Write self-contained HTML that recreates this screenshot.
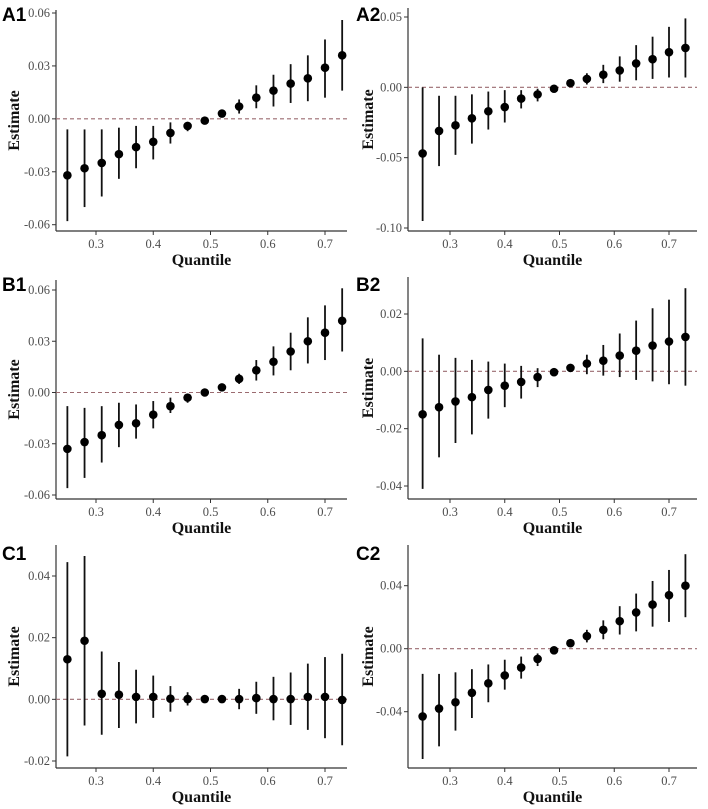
<!DOCTYPE html>
<html><head><meta charset="utf-8">
<style>
html,body{margin:0;padding:0;background:#fff;}
svg{display:block;}
.tick{font-family:"Liberation Serif",serif;font-size:12.5px;fill:#4d4d4d;}
.ttl{font-family:"Liberation Serif",serif;font-size:16px;font-weight:bold;fill:#111;}
.plab{font-family:"Liberation Sans",sans-serif;font-size:19px;font-weight:bold;fill:#000;}
</style></head>
<body>
<svg id="fig" width="708" height="809" viewBox="0 0 708 809"></svg>
<script>
const quantiles=[0.25,0.28,0.31,0.34,0.37,0.40,0.43,0.46,0.49,0.52,0.55,0.58,0.61,0.64,0.67,0.70,0.73];
const xTicks=[0.3,0.4,0.5,0.6,0.7];

const a1Est=[-0.032,-0.028,-0.025,-0.020,-0.016,-0.013,-0.008,-0.004,-0.001,0.003,0.007,0.012,0.016,0.020,0.023,0.029,0.036];
const a1Lo=[-0.058,-0.050,-0.044,-0.034,-0.028,-0.023,-0.014,-0.007,-0.003,0.001,0.003,0.006,0.007,0.009,0.010,0.012,0.016];
const a1Hi=[-0.006,-0.006,-0.006,-0.005,-0.004,-0.004,-0.002,-0.002,0,0.005,0.011,0.019,0.025,0.031,0.036,0.045,0.056];
const a1Ticks=[0.06,0.03,0,-0.03,-0.06];

const a2Est=[-0.047,-0.031,-0.027,-0.022,-0.017,-0.014,-0.008,-0.005,-0.001,0.003,0.006,0.009,0.012,0.017,0.020,0.025,0.028];
const a2Lo=[-0.095,-0.056,-0.048,-0.040,-0.030,-0.025,-0.015,-0.010,-0.003,0.001,0.002,0.003,0.004,0.005,0.006,0.007,0.007];
const a2Hi=[0.000,-0.006,-0.006,-0.005,-0.003,-0.002,-0.002,-0.001,0,0.004,0.010,0.016,0.022,0.030,0.036,0.043,0.049];
const a2Ticks=[0.05,0,-0.05,-0.10];

const b1Est=[-0.033,-0.029,-0.025,-0.019,-0.018,-0.013,-0.008,-0.003,0,0.003,0.008,0.013,0.018,0.024,0.030,0.035,0.042];
const b1Lo=[-0.056,-0.050,-0.041,-0.032,-0.027,-0.021,-0.012,-0.006,-0.002,0.001,0.005,0.007,0.010,0.013,0.017,0.019,0.024];
const b1Hi=[-0.008,-0.009,-0.008,-0.006,-0.007,-0.005,-0.003,-0.001,0.001,0.005,0.011,0.019,0.027,0.035,0.044,0.051,0.061];
const b1Ticks=[0.06,0.03,0,-0.03,-0.06];

const b2Est=[-0.015,-0.0125,-0.0105,-0.009,-0.0065,-0.005,-0.0037,-0.002,-0.0003,0.0012,0.0027,0.0037,0.0055,0.0072,0.009,0.0104,0.012];
const b2Lo=[-0.041,-0.030,-0.025,-0.022,-0.0165,-0.0125,-0.0095,-0.0055,-0.0013,0,-0.001,-0.0015,-0.002,-0.003,-0.0035,-0.0045,-0.005];
const b2Hi=[0.0115,0.0058,0.0047,0.004,0.0034,0.0027,0.0019,0.0011,0.0006,0.0025,0.0058,0.0092,0.0132,0.0177,0.022,0.025,0.029];
const b2Ticks=[0.02,0,-0.02,-0.04];

const c1Est=[0.013,0.019,0.0018,0.0015,0.0008,0.0008,0.0002,0.0001,0.0001,0.0001,0.0001,0.0004,0.0001,0.0001,0.0008,0.0008,-0.0002];
const c1Lo=[-0.0185,-0.0085,-0.0115,-0.0093,-0.0078,-0.006,-0.004,-0.002,-0.0008,-0.0008,-0.0032,-0.0047,-0.0068,-0.0083,-0.0099,-0.0126,-0.0149];
const c1Hi=[0.0445,0.0465,0.0155,0.0121,0.0096,0.0077,0.0043,0.0023,0.001,0.001,0.0034,0.0057,0.0073,0.0087,0.0116,0.0137,0.0148];
const c1Ticks=[0.04,0.02,0,-0.02];

const c2Est=[-0.043,-0.038,-0.034,-0.028,-0.022,-0.017,-0.012,-0.0065,-0.001,0.0035,0.008,0.012,0.0175,0.023,0.028,0.034,0.040];
const c2Lo=[-0.070,-0.062,-0.052,-0.044,-0.034,-0.026,-0.019,-0.011,-0.003,0.002,0.004,0.006,0.009,0.011,0.014,0.017,0.020];
const c2Hi=[-0.016,-0.016,-0.015,-0.013,-0.010,-0.007,-0.005,-0.003,0,0.005,0.012,0.018,0.027,0.035,0.043,0.050,0.060];
const c2Ticks=[0.04,0,-0.04];

const NS="http://www.w3.org/2000/svg";
const svg=document.getElementById('fig');
function mk(tag,attrs,parent){const e=document.createElementNS(NS,tag);for(const k in attrs)e.setAttribute(k,attrs[k]);parent.appendChild(e);return e;}
function fmt(v){return (v<0?'-':'')+Math.abs(v).toFixed(2);}

function panel(id,label,est,lo,hi,ticks,g){
  const grp=mk('g',{},svg);
  
  
  const xs=v=>g.x03+(v-0.3)*(g.x07-g.x03)/0.4;
  const ys=v=>g.yA+(v-g.vA)*(g.yB-g.yA)/(g.vB-g.vA);
  const ya=mk('line',{x1:g.ax,y1:g.top,x2:g.ax,y2:g.bot,stroke:'#333','stroke-width':1.2},grp);
  
  
  const xa=mk('line',{x1:g.ax,y1:g.bot,x2:g.right,y2:g.bot,stroke:'#333','stroke-width':1.2},grp);
  
  
  ticks.forEach(t=>{
    const y=ys(t);
    mk('line',{x1:g.ax-4,y1:y,x2:g.ax,y2:y,stroke:'#333','stroke-width':1},grp);
    const tx=mk('text',{x:g.ax-6,y:y+4,'text-anchor':'end',class:'tick'},grp);
    tx.textContent=fmt(t);
    
    
  });
  xTicks.forEach(t=>{
    const x=xs(t);
    mk('line',{x1:x,y1:g.bot,x2:x,y2:g.bot+4,stroke:'#333','stroke-width':1},grp);
    const tx=mk('text',{x:x,y:g.bot+17,'text-anchor':'middle',class:'tick'},grp);
    tx.textContent=t.toFixed(1);
    
    
  });
  const zl=mk('line',{x1:g.ax,y1:ys(0),x2:g.right,y2:ys(0),stroke:'#9b6b70','stroke-width':1.1,'stroke-dasharray':'4,3'},grp);
  
  
  quantiles.forEach((q,i)=>{
    const x=xs(q);
    const eb=mk('line',{x1:x,y1:ys(lo[i]),x2:x,y2:ys(hi[i]),stroke:'#111','stroke-width':1.8},grp);
    
    
    const pt=mk('circle',{cx:x,cy:ys(est[i]),r:4.3,fill:'#000'},grp);
    
    
  });
  const pl=mk('text',{x:g.ox+2,y:g.oy+21,class:'plab'},grp);
  pl.textContent=label;
  
  
  const cy=(g.top+g.bot)/2;
  const yt=mk('text',{x:0,y:0,'text-anchor':'middle',class:'ttl',transform:`translate(${g.ox+19},${cy}) rotate(-90)`},grp);
  yt.textContent='Estimate';
  
  
  const xt=mk('text',{x:(g.ax+g.right)/2,y:g.bot+34,'text-anchor':'middle',class:'ttl'},grp);
  xt.textContent='Quantile';
  
  
}
const L={ax:56,x03:96,x07:325,right:347,ox:0};
const R={ax:408,x03:450,x07:669,right:697,ox:354};
panel('a1','A1',a1Est,a1Lo,a1Hi,a1Ticks,Object.assign({},L,{oy:0,top:10,bot:231,vA:0.06,yA:13,vB:-0.06,yB:224.7}));
panel('a2','A2',a2Est,a2Lo,a2Hi,a2Ticks,Object.assign({},R,{oy:0,top:8,bot:231,vA:0.05,yA:17,vB:-0.10,yB:228}));
panel('b1','B1',b1Est,b1Lo,b1Hi,b1Ticks,Object.assign({},L,{oy:270,top:280,bot:499,vA:0.06,yA:290,vB:-0.06,yB:495}));
panel('b2','B2',b2Est,b2Lo,b2Hi,b2Ticks,Object.assign({},R,{oy:270,top:277,bot:499,vA:0.02,yA:314,vB:-0.04,yB:486}));
panel('c1','C1',c1Est,c1Lo,c1Hi,c1Ticks,Object.assign({},L,{oy:539,top:545,bot:768,vA:0.04,yA:576,vB:-0.02,yB:761}));
panel('c2','C2',c2Est,c2Lo,c2Hi,c2Ticks,Object.assign({},R,{oy:539,top:545,bot:768,vA:0.04,yA:585.7,vB:-0.04,yB:711.7}));
</script>
</body></html>
